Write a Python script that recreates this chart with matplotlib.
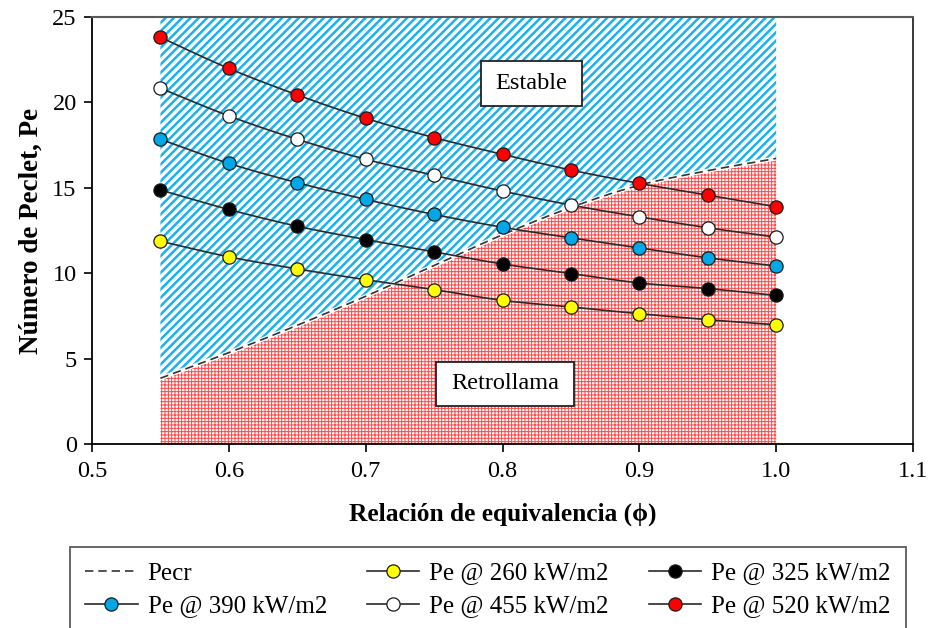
import numpy as np
import matplotlib
matplotlib.use("Agg")
import matplotlib.pyplot as plt
from matplotlib.lines import Line2D
from matplotlib.patches import Rectangle

# ---- data -------------------------------------------------------------
phi = [0.55, 0.60, 0.65, 0.70, 0.75, 0.80, 0.85, 0.90, 0.95, 1.00]

pecr = [3.85, 5.35, 6.95, 8.65, 10.45, 12.25, 13.85, 15.15, 16.0, 16.72]

pe_260 = [11.87, 10.96, 10.25, 9.62, 9.04, 8.41, 8.02, 7.63, 7.28, 6.98]
pe_325 = [14.87, 13.73, 12.75, 11.97, 11.25, 10.54, 9.98, 9.43, 9.10, 8.70]
pe_390 = [17.84, 16.43, 15.30, 14.32, 13.44, 12.69, 12.07, 11.48, 10.90, 10.42]
pe_455 = [20.83, 19.21, 17.84, 16.67, 15.73, 14.81, 13.99, 13.30, 12.66, 12.11]
pe_520 = [23.81, 21.99, 20.44, 19.07, 17.94, 16.96, 16.04, 15.26, 14.57, 13.89]

series_labels = ["Pe @ 260 kW/m2", "Pe @ 325 kW/m2", "Pe @ 390 kW/m2",
                 "Pe @ 455 kW/m2", "Pe @ 520 kW/m2"]
series_values = [pe_260, pe_325, pe_390, pe_455, pe_520]
series_colors = ["#FFFF00", "#000000", "#00A8E8", "#FFFFFF", "#FF0000"]

region_labels = ["Estable", "Retrollama"]
x_ticks = [0.5, 0.6, 0.7, 0.8, 0.9, 1.0, 1.1]
y_ticks = [0, 5, 10, 15, 20, 25]


def smooth(x, y, n=12):
    """Catmull-Rom curve through the points, for a smooth line rendering."""
    x = np.asarray(x, float)
    y = np.asarray(y, float)
    px = np.concatenate([[2 * x[0] - x[1]], x, [2 * x[-1] - x[-2]]])
    py = np.concatenate([[2 * y[0] - y[1]], y, [2 * y[-1] - y[-2]]])
    xs, ys = [], []
    t = np.linspace(0, 1, n, endpoint=False)
    for i in range(1, len(px) - 2):
        p0, p1, p2, p3 = (np.array([px[j], py[j]]) for j in range(i - 1, i + 3))
        for tt in t:
            pt = 0.5 * ((2 * p1) + (-p0 + p2) * tt
                        + (2 * p0 - 5 * p1 + 4 * p2 - p3) * tt ** 2
                        + (-p0 + 3 * p1 - 3 * p2 + p3) * tt ** 3)
            xs.append(pt[0])
            ys.append(pt[1])
    xs.append(x[-1])
    ys.append(y[-1])
    return np.array(xs), np.array(ys)


plt.rcParams["font.family"] = ["Liberation Serif", "DejaVu Serif"]

W, H = 933, 628
fig = plt.figure(figsize=(W / 100, H / 100), dpi=100)
ax = fig.add_axes([92 / W, (H - 444) / H, (913 - 92) / W, (444 - 17) / H])

ax.set_xlim(0.5, 1.1)
ax.set_ylim(0, 25)

# ---- stability regions ----------------------------------------------
sx, sy = smooth(phi, pecr)

plt.rcParams["hatch.linewidth"] = 1.8
ax.fill_between(sx, sy, 25, facecolor="white", edgecolor="#1AB2EC",
                hatch="////", linewidth=0, zorder=1)

plt.rcParams["hatch.linewidth"] = 0.7
ax.fill_between(sx, 0, sy, facecolor="white", edgecolor="#FF4848",
                hatch="+++++", linewidth=0, zorder=1)

# critical Peclet line (with a white halo)
ax.plot(sx, sy, color="white", lw=3.0, zorder=2, solid_capstyle="butt")
ax.plot(sx, sy, color="#333333", lw=1.2, ls=(0, (5, 3)), zorder=3)

# ---- Peclet curves ----------------------------------------------------
handles = {}
for lab, vals, col in zip(series_labels, series_values, series_colors):
    cx, cy = smooth(phi, vals)
    ax.plot(cx, cy, color="#2a2a2a", lw=1.2, zorder=4)
    ax.plot(phi, vals, ls="none", marker="o", ms=9.5, mfc=col,
            mec="#1a1a1a", mew=0.9, zorder=5)
    handles[lab] = Line2D([], [], color="#2a2a2a", lw=1.2, marker="o",
                          ms=9.5, mfc=col, mec="#1a1a1a", mew=0.9)

pecr_handle = Line2D([], [], color="#333333", lw=1.2, ls=(0, (5, 3)))

# ---- region labels ----------------------------------------------------
def boxed_label(x0, x1, y0, y1, text):
    ax.add_patch(Rectangle((x0, y0), x1 - x0, y1 - y0, facecolor="white",
                           edgecolor="#222222", lw=1.3, zorder=6))
    ax.text((x0 + x1) / 2, (y0 + y1) / 2, text, ha="center", va="center",
            fontsize=17.5, zorder=7)

boxed_label(0.7844, 0.8582, 19.78, 22.42, region_labels[0])
boxed_label(0.7515, 0.8523, 2.23, 4.81, region_labels[1])

# ---- axes styling -----------------------------------------------------
ax.set_xticks(x_ticks)
ax.set_xticklabels([f"{v:.1f}" for v in x_ticks])
ax.set_yticks(y_ticks)
ax.tick_params(axis="both", direction="out", length=6, width=1.2,
               labelsize=17.5, colors="black")
ax.tick_params(axis="x", pad=6)
ax.tick_params(axis="y", pad=5)
for side in ("left", "bottom"):
    ax.spines[side].set_color("black")
    ax.spines[side].set_linewidth(1.3)
ax.spines["top"].set_color("#5a5a5a")
ax.spines["top"].set_linewidth(1.5)
ax.spines["right"].set_color("#2a2a2a")
ax.spines["right"].set_linewidth(1.3)
for sp in ax.spines.values():
    sp.set_zorder(8)

ax.set_xlabel("Relación de equivalencia (\u03d5)", fontsize=18.3,
              fontweight="bold", labelpad=15)
ax.set_ylabel("Número de Peclet, Pe", fontsize=19.5, fontweight="bold",
              labelpad=6)

# ---- legend (filled column by column) -------------------------------
order = [("Pecr", pecr_handle),
         (series_labels[2], handles[series_labels[2]]),
         (series_labels[0], handles[series_labels[0]]),
         (series_labels[3], handles[series_labels[3]]),
         (series_labels[1], handles[series_labels[1]]),
         (series_labels[4], handles[series_labels[4]])]
leg = fig.legend([h for _, h in order], [l for l, _ in order], ncol=3,
                 loc="upper left", bbox_to_anchor=(70 / W, 1 - 547 / H),
                 fontsize=18, frameon=True, fancybox=False,
                 handlelength=2.1, handletextpad=0.4, columnspacing=1.6,
                 labelspacing=0.42, borderpad=0.6, borderaxespad=0)
leg.get_frame().set_edgecolor("#333333")
leg.get_frame().set_linewidth(1.3)

fig.savefig("out.png", dpi=100)
